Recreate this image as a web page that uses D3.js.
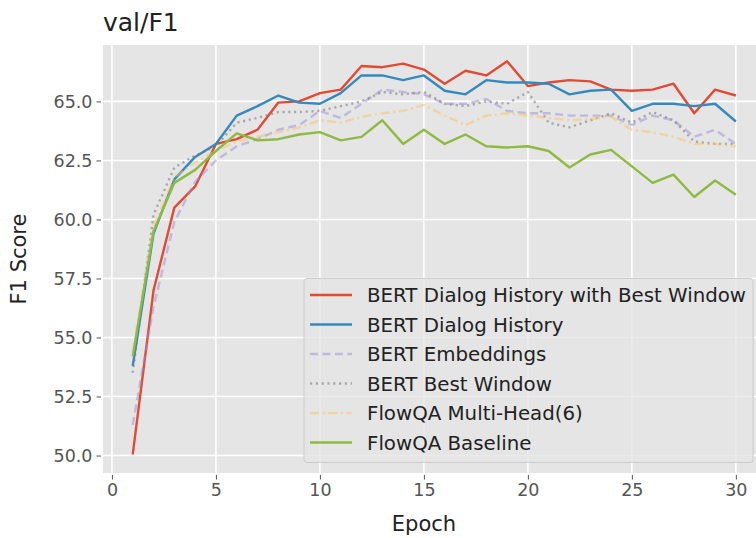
<!DOCTYPE html>
<html>
<head>
<meta charset="utf-8">
<script src="https://cdn.jsdelivr.net/npm/d3@7"></script>
<style>
    body { margin: 0; background: #fff; }
    text { font-family: "DejaVu Sans", sans-serif; }
</style>
</head>
<body>
<div id="myChart"></div>
<script>
// data
var epochs = d3.range(1, 31);
var seriesNames = ["BERT Dialog History with Best Window", "BERT Dialog History", "BERT Embeddings",
    "BERT Best Window", "FlowQA Multi-Head(6)", "FlowQA Baseline"];
var bertHistBest = [50.05, 57.0, 60.5, 61.4, 63.2, 63.4, 63.8, 64.95, 65.0, 65.35, 65.5, 66.5, 66.45, 66.6, 66.35,
    65.75, 66.3, 66.1, 66.7, 65.65, 65.8, 65.9, 65.85, 65.5, 65.45, 65.5, 65.75, 64.5, 65.5, 65.25];
var bertHist = [53.8, 59.4, 61.7, 62.65, 63.2, 64.4, 64.8, 65.25, 64.95, 64.9, 65.35, 66.1, 66.1, 65.9, 66.1,
    65.45, 65.3, 65.9, 65.8, 65.8, 65.75, 65.3, 65.45, 65.5, 64.6, 64.9, 64.9, 64.8, 64.9, 64.15];
var bertEmb = [51.3, 56.3, 59.9, 61.6, 62.5, 63.1, 63.4, 63.8, 64.0, 64.6, 64.3, 64.9, 65.5, 65.4, 65.3,
    64.9, 64.9, 65.1, 64.6, 64.5, 64.5, 64.4, 64.4, 64.4, 64.0, 64.4, 64.2, 63.5, 63.8, 63.2];
var bertBest = [53.5, 60.2, 62.2, 62.7, 63.1, 64.1, 64.3, 64.55, 64.55, 64.6, 64.8, 65.0, 65.4, 65.3, 65.4,
    64.9, 64.8, 65.0, 64.9, 65.4, 64.1, 63.9, 64.2, 64.5, 64.1, 64.55, 64.2, 63.3, 63.2, 63.2];
var flowMulti = [54.4, 59.7, 61.8, 62.4, 62.9, 63.3, 63.5, 63.7, 63.9, 64.2, 64.1, 64.35, 64.5, 64.6, 64.85,
    64.4, 64.0, 64.4, 64.5, 64.4, 64.3, 64.2, 64.25, 64.35, 63.8, 63.7, 63.5, 63.2, 63.2, 63.1];
var flowBase = [54.2, 59.5, 61.55, 62.1, 62.9, 63.65, 63.35, 63.4, 63.6, 63.7, 63.35, 63.5, 64.2, 63.2, 63.8,
    63.2, 63.6, 63.1, 63.05, 63.1, 62.9, 62.2, 62.75, 62.95, 62.25, 61.55, 61.9, 60.95, 61.65, 61.05];
var xTicks = [0, 5, 10, 15, 20, 25, 30];
var yTicks = [50, 52.5, 55, 57.5, 60, 62.5, 65];

var seriesValues = [bertHistBest, bertHist, bertEmb, bertBest, flowMulti, flowBase];
var colors = ["#E24A33", "#348ABD", "#988ED5", "#777777", "#FBC15E", "#8EBA42"];
var dashes = [null, null, "8,4.5", "2.2,3.6", "9,3.5,2.2,3.5", null];
var alphas = [1, 1, 0.5, 0.55, 0.5, 1];

var width = 756, height = 538;
var plot = {left: 103, top: 45, bottom: 473, right: 766};

var svg = d3.select("#myChart")
    .append("svg")
    .attr("width", width)
    .attr("height", height);

var x = d3.scaleLinear().domain([-0.43, 31.45]).range([plot.left, plot.right]);
var y = d3.scaleLinear().domain([49.26, 67.39]).range([plot.bottom, plot.top]);

// panel background
svg.append("rect")
    .attr("x", plot.left)
    .attr("y", plot.top)
    .attr("width", plot.right - plot.left)
    .attr("height", plot.bottom - plot.top)
    .style("fill", "#E5E5E5");

// grid
svg.append("g")
    .selectAll("line")
    .data(xTicks)
    .enter()
    .append("line")
    .attr("x1", function (d) { return x(d); })
    .attr("x2", function (d) { return x(d); })
    .attr("y1", plot.top)
    .attr("y2", plot.bottom)
    .style("stroke", "#fff")
    .style("stroke-width", 1.6);

svg.append("g")
    .selectAll("line")
    .data(yTicks)
    .enter()
    .append("line")
    .attr("x1", plot.left)
    .attr("x2", plot.right)
    .attr("y1", function (d) { return y(d); })
    .attr("y2", function (d) { return y(d); })
    .style("stroke", "#fff")
    .style("stroke-width", 1.6);

// axes
var xAxis = d3.axisBottom(x).tickValues(xTicks).tickSize(4.5).tickPadding(4)
    .tickFormat(d3.format("d"));
var yAxis = d3.axisLeft(y).tickValues(yTicks).tickSize(4.5).tickPadding(4)
    .tickFormat(d3.format(".1f"));

var gx = svg.append("g")
    .attr("transform", "translate(0," + (plot.bottom + 2) + ")")
    .call(xAxis);
var gy = svg.append("g")
    .attr("transform", "translate(" + (plot.left - 2) + ",0)")
    .call(yAxis);

[gx, gy].forEach(function (g) {
    g.select(".domain").remove();
    g.selectAll("line").style("stroke", "#555555").style("stroke-width", 1);
    g.selectAll("text").style("fill", "#555555").style("font-size", "17.5px")
        .style("font-family", "DejaVu Sans");
});

// lines
var line = d3.line()
    .x(function (d, i) { return x(epochs[i]); })
    .y(function (d) { return y(d); });

var order = [0, 1, 2, 3, 4, 5];
svg.append("g")
    .selectAll("path")
    .data(order)
    .enter()
    .append("path")
    .attr("d", function (k) { return line(seriesValues[k]); })
    .style("fill", "none")
    .style("stroke", function (k) { return colors[k]; })
    .style("stroke-opacity", function (k) { return alphas[k]; })
    .style("stroke-width", 2.4)
    .style("stroke-dasharray", function (k) { return dashes[k]; })
    .style("stroke-linejoin", "round");

// legend
var legend = svg.append("g");
legend.append("rect")
    .attr("x", 304)
    .attr("y", 278.5)
    .attr("width", 449)
    .attr("height", 184)
    .attr("rx", 3)
    .style("fill", "#E5E5E5")
    .style("fill-opacity", 0.8)
    .style("stroke", "#cccccc")
    .style("stroke-width", 1);

var rows = legend.selectAll("g.item")
    .data(order)
    .enter()
    .append("g")
    .attr("class", "item")
    .attr("transform", function (k) { return "translate(0," + (295 + k * 29.5) + ")"; });

rows.append("line")
    .attr("x1", 310)
    .attr("x2", 352)
    .attr("y1", 0)
    .attr("y2", 0)
    .style("stroke", function (k) { return colors[k]; })
    .style("stroke-opacity", function (k) { return alphas[k]; })
    .style("stroke-width", 2.4)
    .style("stroke-dasharray", function (k) { return dashes[k]; });

rows.append("text")
    .attr("x", 367)
    .attr("y", 0)
    .attr("dy", "0.36em")
    .text(function (k) { return seriesNames[k]; })
    .style("font-size", "19.8px")
    .style("fill", "#222");

// labels
svg.append("text")
    .attr("x", 103)
    .attr("y", 31)
    .text("val/F1")
    .style("font-size", "25px")
    .style("fill", "#222");

svg.append("text")
    .attr("x", (112 + 736) / 2)
    .attr("y", 531)
    .attr("text-anchor", "middle")
    .text("Epoch")
    .style("font-size", "21px")
    .style("fill", "#222");

svg.append("text")
    .attr("transform", "translate(26," + ((plot.top + plot.bottom) / 2) + ") rotate(-90)")
    .attr("text-anchor", "middle")
    .text("F1 Score")
    .style("font-size", "21px")
    .style("fill", "#222");
</script>
</body>
</html>
